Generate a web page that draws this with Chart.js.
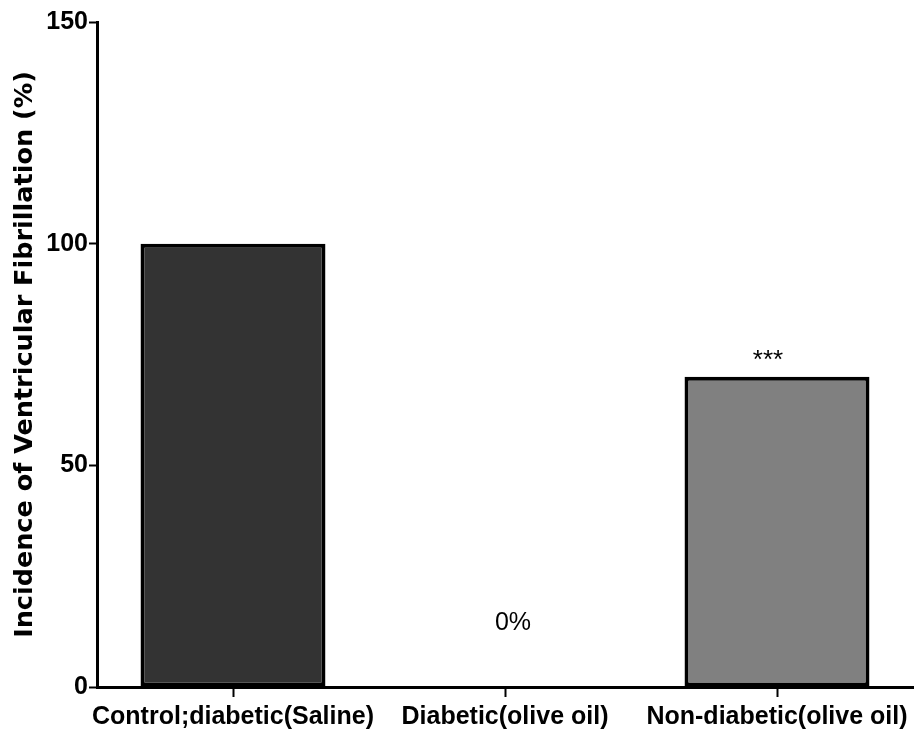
<!DOCTYPE html>
<html>
<head>
<meta charset="utf-8">
<script src="https://cdn.jsdelivr.net/npm/chart.js@4/dist/chart.umd.min.js"></script>
<style>
  html, body { margin: 0; padding: 0; background: #ffffff; }
  #wrap { width: 924px; height: 735px; }
</style>
</head>
<body>
<div id="wrap"><canvas id="vf" width="924" height="735"></canvas></div>
<script>
// Incidence of ventricular fibrillation per group
const groups = ['Control;diabetic(Saline)', 'Diabetic(olive oil)', 'Non-diabetic(olive oil)'];
const incidence = [100, 0, 70];
const barColors = ['#333333', '#ffffff', '#808080'];
const markLabels = ['', '0%', '***'];
const yTicks = [0, 50, 100, 150];

const sansFamily = "'Liberation Sans', Arial, Helvetica, sans-serif";

// Annotation text above each bar (significance marks / value notes)
const markPlugin = {
  id: 'marks',
  afterDatasetsDraw(chart, args, opts) {
    const { ctx, scales } = chart;
    ctx.save();
    ctx.fillStyle = '#000';
    ctx.textAlign = 'center';
    ctx.textBaseline = 'middle';
    opts.labels.forEach((txt, i) => {
      if (!txt) return;
      const st = opts.styles[i];
      ctx.font = st.font;
      const x = scales.x.getPixelForValue(i) + st.dx;
      const y = scales.y.getPixelForValue(incidence[i]) - st.lift;
      ctx.fillText(txt, x, y);
    });
    ctx.restore();
  }
};

new Chart(document.getElementById('vf'), {
  type: 'bar',
  data: {
    labels: groups,
    datasets: [{
      data: incidence,
      backgroundColor: barColors,
      borderColor: '#000000',
      borderWidth: 4,
      borderSkipped: false,
      barPercentage: 0.68,
      categoryPercentage: 1.0
    }]
  },
  options: {
    responsive: false,
    animation: false,
    devicePixelRatio: 1,
    layout: { padding: { top: 22, right: 11, left: 0, bottom: 0 } },
    plugins: {
      legend: { display: false },
      tooltip: { enabled: false },
      marks: {
        labels: markLabels,
        styles: [
          null,
          { font: "25px " + sansFamily, dx: 8, lift: 64 },
          { font: "26px " + sansFamily, dx: -9, lift: 16 }
        ]
      }
    },
    scales: {
      x: {
        grid: {
          offset: false,
          drawOnChartArea: false,
          drawTicks: true,
          tickLength: 10,
          tickWidth: 2,
          tickColor: '#000'
        },
        border: { color: '#000', width: 3 },
        ticks: {
          color: '#000',
          font: { family: sansFamily, weight: 'bold', size: 25 },
          padding: 5,
          maxRotation: 0,
          autoSkip: false
        },
        afterFit(scale) { scale.height = 48; }
      },
      y: {
        min: 0,
        max: 150,
        afterBuildTicks(scale) { scale.ticks = yTicks.map(v => ({ value: v })); },
        grid: {
          drawOnChartArea: false,
          drawTicks: true,
          tickLength: 8,
          tickWidth: 2,
          tickColor: '#000'
        },
        border: { color: '#000', width: 3 },
        ticks: {
          color: '#000',
          font: { family: sansFamily, weight: 'bold', size: 25 },
          padding: 1
        },
        title: {
          display: true,
          text: 'Incidence of Ventricular Fibrillation (%)',
          color: '#000',
          font: { family: "'DejaVu Sans', sans-serif", weight: 'bold', size: 25.5 },
          padding: { top: 10, bottom: 0 }
        },
        afterFit(scale) { scale.width = 97; }
      }
    }
  },
  plugins: [markPlugin]
});
</script>
</body>
</html>
